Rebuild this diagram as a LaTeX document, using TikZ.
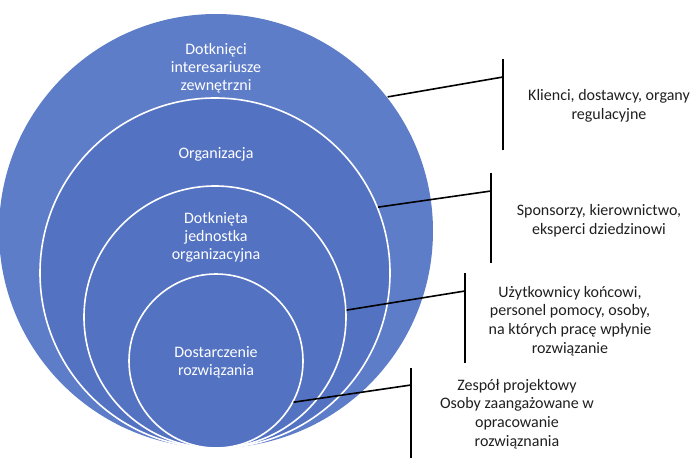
\documentclass[tikz,border=0pt]{standalone}
\usepackage{fontspec}
\setmainfont{Carlito}
\definecolor{ringouter}{HTML}{5E7DC9}
\definecolor{ringinner}{HTML}{5372C2}
\definecolor{txtdark}{HTML}{1F1F1F}
\begin{document}
\begin{tikzpicture}[x=1pt,y=-1pt,
  ring/.style={circle,draw=white,line width=1.6pt,inner sep=0pt,fill=ringinner},
  intxt/.style={text=white,align=center,font=\fontsize{16}{18}\selectfont,inner sep=0pt},
  outtxt/.style={text=txtdark,align=center,font=\fontsize{16}{18.7}\selectfont,inner sep=0pt},
  conn/.style={line width=1.6pt,black},
  bar/.style={line width=1.6pt,black}]
\useasboundingbox (0,0) rectangle (699,473);
% circles, tangent at bottom
\node[ring,fill=ringouter,draw=none,minimum size=434pt] (c1) at (216,231) {};
\node[ring,minimum size=350pt] (c2) at (215,273) {};
\node[ring,minimum size=262pt] (c3) at (215,317) {};
\node[ring,minimum size=174pt] (c4) at (216,361) {};
% labels inside circles
\node[intxt] (t1) at (216,68) {Dotknięci\\interesariusze\\zewnętrzni};
\node[intxt] (t2) at (216,154) {Organizacja};
\node[intxt] (t3) at (216,237) {Dotknięta\\jednostka\\organizacyjna};
\node[intxt] (t4) at (216,362) {Dostarczenie\\rozwiązania};
% bars
\coordinate (b1) at (503,77);
\coordinate (b1t) at (503,59);
\coordinate (b1b) at (503,150);
\coordinate (b2) at (491,191);
\coordinate (b2t) at (491,173);
\coordinate (b2b) at (491,263);
\coordinate (b3) at (465,291);
\coordinate (b3t) at (465,273);
\coordinate (b3b) at (465,363);
\coordinate (b4) at (411,385);
\coordinate (b4t) at (411,368);
\coordinate (b4b) at (411,458);
\draw[bar] (b1t) -- (b1b);
\draw[bar] (b2t) -- (b2b);
\draw[bar] (b3t) -- (b3b);
\draw[bar] (b4t) -- (b4b);
\draw[conn] (c1.38) -- (b1);
\draw[conn] (c2.22) -- (b2);
\draw[conn] (c3.3) -- (b3);
\draw[conn] (c4.-28) -- (b4);
% outer labels
\node[outtxt] (l1) at (609,106) {Klienci, dostawcy, organy\\regulacyjne};
\node[outtxt] (l2) at (599,221) {Sponsorzy, kierownictwo,\\eksperci dziedzinowi};
\node[outtxt] (l3) at (570,321) {Użytkownicy końcowi,\\personel pomocy, osoby,\\na których pracę wpłynie\\rozwiązanie};
\node[outtxt] (l4) at (517,414) {Zespół projektowy\\Osoby zaangażowane w\\opracowanie\\rozwiąznania};
\end{tikzpicture}
\end{document}
